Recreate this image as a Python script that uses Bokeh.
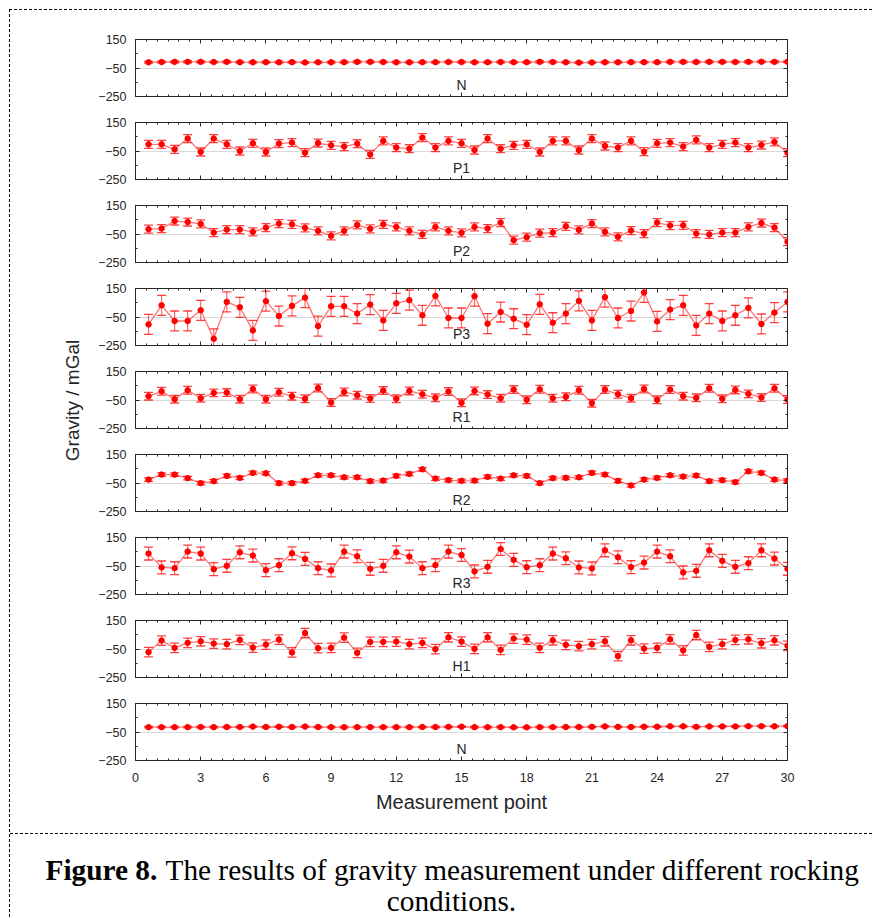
from math import pi
from bokeh.plotting import figure
from bokeh.models import (Range1d, FixedTicker, LinearAxis, ColumnDataSource, Label,
                          CustomLabelingPolicy, Spacer)
from bokeh.layouts import column, row
from bokeh.embed import file_html
from bokeh.resources import INLINE

# ---------------- data ----------------
points = [0.6, 1.2, 1.8, 2.4, 3.0, 3.6, 4.2, 4.8, 5.4, 6.0,
          6.6, 7.2, 7.8, 8.4, 9.0, 9.6, 10.2, 10.8, 11.4, 12.0,
          12.6, 13.2, 13.8, 14.4, 15.0, 15.6, 16.2, 16.8, 17.4, 18.0,
          18.6, 19.2, 19.8, 20.4, 21.0, 21.6, 22.2, 22.8, 23.4, 24.0,
          24.6, 25.2, 25.8, 26.4, 27.0, 27.6, 28.2, 28.8, 29.4, 30.0]

panel_names = ["N", "P1", "P2", "P3", "R1", "R2", "R3", "H1", "N"]

N_top = [-10, -8, -7, -7, -7, -8, -7, -9, -10, -9, -10, -9, -11, -10, -10, -9, -7, -7, -8, -10,
         -10, -9, -9, -8, -8, -10, -9, -8, -9, -9, -7, -8, -10, -12, -11, -10, -10, -9, -9, -9,
         -7, -7, -8, -7, -7, -8, -7, -6, -7, -6]
P1 = [-3, -3, -38, 37, -57, 37, -3, -50, 4, -57, 2, 9, -62, 6, -10, -19, 1, -74, 21, -26,
      -34, 44, -26, 21, 4, -43, 37, -34, -10, -3, -57, 21, 21, -43, 37, -15, -26, 21, -55, 4,
      9, -19, 28, -26, -3, 9, -26, -8, 14, -62]
P2 = [-16, -12, 41, 34, 21, -40, -19, -19, -35, -5, 23, 18, -7, -28, -63, -28, 14, -14, 18, 0,
      -28, -53, 0, -28, -42, 0, -12, 30, -93, -72, -44, -40, 4, -21, 23, -35, -70, -26, -47, 30,
      9, 11, -47, -53, -40, -40, 0, 27, -5, -104]
P3 = [-102, 32, -78, -78, -3, -203, 56, 18, -144, 61, -43, 28, 86, -114, 25, 25, -26, 37, -74, 46,
      68, -38, 98, -57, -57, 96, -97, -15, -62, -104, 39, -90, -26, 63, -74, 89, -57, -8, 122, -81,
      2, 32, -109, -26, -78, -38, 14, -99, -19, 56]
R1 = [-23, 11, -44, 18, -37, 0, 2, -44, 27, -44, 4, -23, -42, 34, -67, 7, -16, -40, 16, -42,
      14, -10, -35, 9, -70, 14, -12, -37, 23, -49, 25, -37, -28, 18, -72, 23, -10, -37, 27, -49,
      23, -23, -35, 32, -42, 21, -7, -33, 32, -47]
R2 = [-26, 9, 9, -16, -51, -37, 0, -14, 21, 18, -51, -51, -35, 4, 4, -10, -10, -37, -33, 0,
      14, 46, -19, -30, -35, -33, -7, -19, 4, 0, -51, -16, -14, -10, 21, 9, -35, -67, -26, -14,
      4, -5, 2, -37, -30, -44, 32, 21, -26, -33]
R3 = [37, -60, -65, 51, 37, -72, -49, 46, 23, -79, -44, 39, 0, -65, -81, 51, 18, -70, -49, 46,
      16, -65, -44, 51, 27, -88, -56, 69, -7, -58, -44, 37, 4, -60, -67, 60, 11, -58, -26, 51,
      18, -95, -84, 60, -14, -56, -30, 60, 2, -70]
H1 = [-72, 9, -42, -7, 4, -12, -16, 14, -40, -19, 16, -74, 62, -44, -42, 30, -77, 0, 0, 2,
      -16, -7, -51, 32, 2, -49, 32, -56, 23, 16, -42, 11, -21, -30, -16, 4, -100, 11, -47, -42,
      18, -60, 48, -35, -16, 14, 18, -10, 11, -28]
N_bottom = [-16, -16, -16, -16, -15, -16, -15, -15, -12, -15, -13, -15, -12, -15, -16, -16, -16, -16, -16, -16,
            -16, -15, -15, -14, -13, -16, -16, -16, -17, -17, -16, -16, -15, -15, -14, -11, -14, -15, -13, -13,
            -10, -10, -14, -11, -11, -11, -9, -9, -10, -9]

series = [N_top, P1, P2, P3, R1, R2, R3, H1, N_bottom]
errors = [6, 28, 28, 70, 27, 12, 45, 33, 5]   # half-width of error bars per panel

y_ticks = [-250, -50, 150]
y_minor = [-150, 50]
x_ticks = [0, 3, 6, 9, 12, 15, 18, 21, 24, 27, 30]
x_minor = [i * 0.5 for i in range(61)]

# ---------------- styling ----------------
AX = "#262626"
TICK_FONT = "Liberation Sans"
RED = "#ff0000"
YLAB_W = 80
hide_labels = CustomLabelingPolicy(code="return [];")


def style_axis(ax, ticks, minor, show_labels):
    ax.ticker = FixedTicker(ticks=ticks, minor_ticks=minor)
    ax.axis_line_color = None
    ax.major_tick_in = 4
    ax.major_tick_out = 0
    ax.minor_tick_in = 2
    ax.minor_tick_out = 0
    ax.major_tick_line_color = AX
    ax.minor_tick_line_color = AX
    ax.major_label_text_font = TICK_FONT
    ax.major_label_text_color = AX
    ax.major_label_text_font_size = "12.5px"
    if not show_labels:
        ax.major_label_policy = hide_labels
        ax.major_label_standoff = 0


def make_panel(idx):
    first = idx == 0
    last = idx == len(series) - 1
    p = figure(frame_width=652, frame_height=57,
               x_range=Range1d(0, 30), y_range=Range1d(-250, 150),
               min_border_left=125 - YLAB_W, min_border_right=85,
               min_border_top=29 if first else 13,
               min_border_bottom=73 if last else 13,
               toolbar_location=None, output_backend="svg")
    p.outline_line_color = AX
    p.outline_line_width = 1
    p.xgrid.visible = False
    p.ygrid.ticker = FixedTicker(ticks=y_ticks)
    p.ygrid.grid_line_color = "#d9d9d9"
    p.ygrid.grid_line_width = 1

    style_axis(p.yaxis[0], y_ticks, y_minor, True)
    p.yaxis[0].major_label_standoff = 9
    style_axis(p.xaxis[0], x_ticks, x_minor, last)
    if last:
        p.xaxis[0].major_label_standoff = 12
        p.xaxis[0].axis_label = "Measurement point"
        p.xaxis[0].axis_label_text_font = "Liberation Sans"
        p.xaxis[0].axis_label_text_font_style = "normal"
        p.xaxis[0].axis_label_text_font_size = "20px"
        p.xaxis[0].axis_label_text_color = AX
        p.xaxis[0].axis_label_standoff = 6

    top_ax = LinearAxis()
    style_axis(top_ax, x_ticks, x_minor, False)
    p.add_layout(top_ax, "above")
    right_ax = LinearAxis()
    style_axis(right_ax, y_ticks, y_minor, False)
    p.add_layout(right_ax, "right")

    vals = series[idx]
    e = errors[idx]
    src = ColumnDataSource(dict(x=points, y=vals,
                                lo=[v - e for v in vals], hi=[v + e for v in vals]))
    p.segment(x0="x", y0="lo", x1="x", y1="hi", source=src,
              line_color=RED, line_alpha=0.6, line_width=1.2)
    p.scatter(x="x", y="lo", source=src, marker="dash", size=9,
              line_color=RED, line_alpha=0.75, line_width=1.3)
    p.scatter(x="x", y="hi", source=src, marker="dash", size=9,
              line_color=RED, line_alpha=0.75, line_width=1.3)
    p.line(x="x", y="y", source=src, line_color=RED, line_alpha=0.55, line_width=1.3)
    p.scatter(x="x", y="y", source=src, size=5.5, fill_color=RED, line_color=RED)

    p.add_layout(Label(x=15, y=-170, text=panel_names[idx], text_align="center",
                       text_baseline="middle", text_font="Liberation Sans",
                       text_font_size="14px", text_color=AX))
    return p


panels = [make_panel(i) for i in range(len(series))]
panels_h = 99 + 83 * 7 + 143

# ---------------- y-axis title (spans all panels) ----------------
ylab = figure(width=YLAB_W, height=panels_h, x_range=Range1d(10, 10 + YLAB_W),
              y_range=Range1d(10 + panels_h, 10), min_border=0,
              x_axis_location=None, y_axis_location=None,
              toolbar_location=None, output_backend="svg")
ylab.grid.visible = False
ylab.outline_line_color = None
ylab.add_layout(Label(x=72, y=400, text="Gravity / mGal", angle=pi / 2,
                      text_align="center", text_baseline="middle",
                      text_font="Liberation Sans", text_font_size="19px", text_color=AX))

# ---------------- caption (frame covers the whole canvas) ----------------
CAP_H = 84
cap = figure(width=862, height=CAP_H, min_border=0,
             x_range=Range1d(10, 872), y_range=Range1d(834 + CAP_H, 834),
             x_axis_location=None, y_axis_location=None,
             toolbar_location=None, output_backend="svg",
             styles={"border-top": "1px dashed black"})
cap.grid.visible = False
cap.outline_line_color = None
CAP_FONT = "29.3px"
cap.add_layout(Label(x=45, y=869, text="Figure 8.", text_align="left", text_baseline="middle",
                     text_font="Liberation Serif", text_font_style="bold",
                     text_font_size=CAP_FONT, text_color="black"))
cap.add_layout(Label(x=165, y=869, text="The results of gravity measurement under different rocking",
                     text_align="left", text_baseline="middle",
                     text_font="Liberation Serif", text_font_size=CAP_FONT, text_color="black"))
cap.add_layout(Label(x=451, y=900, text="conditions.", text_align="center", text_baseline="middle",
                     text_font="Liberation Serif", text_font_size=CAP_FONT, text_color="black"))

inner = column(row(ylab, column(*panels, spacing=0), spacing=0), cap, spacing=0,
               styles={"border-top": "1px dashed black", "border-left": "1px dashed black"})
layout = column(Spacer(height=9), row(Spacer(width=9), inner, spacing=0), spacing=0)

open("out.html", "w").write(file_html(layout, INLINE))
